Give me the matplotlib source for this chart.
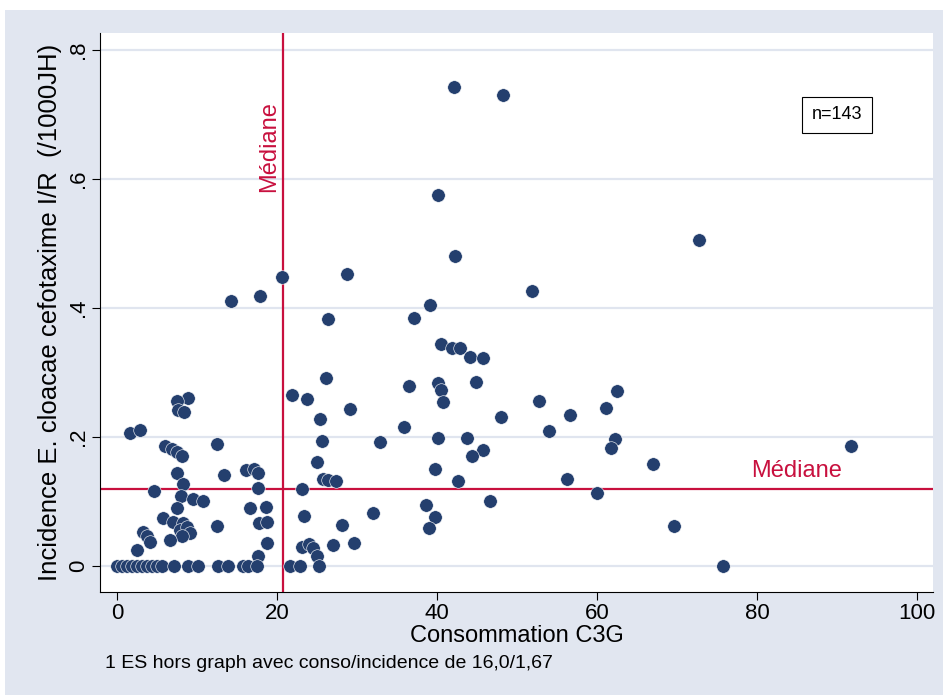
import matplotlib
matplotlib.use('Agg')
import matplotlib.pyplot as plt
from matplotlib.patches import Rectangle

# consommation C3G / incidence E. cloacae cefotaxime I/R
conso = [42.1, 48.2, 40.1, 72.8, 42.3, 28.7, 20.6, 51.9, 14.3, 17.9,
         39.1, 26.4, 37.1, 40.5, 41.9, 42.9, 44.1, 45.7, 26.1, 36.5,
         40.1, 40.5, 40.7, 44.9, 62.5, 61.1, 52.7, 56.6, 48.0, 21.9,
         23.8, 25.4, 29.1, 8.9, 7.5, 7.6, 8.4, 1.6, 2.9, 35.9,
         32.9, 25.6, 40.1, 43.7, 54.0, 62.2, 61.8, 45.7, 44.4, 12.5,
         6.0, 6.9, 7.5, 8.1, 67.0, 91.8, 7.5, 13.4, 16.1, 17.1,
         17.6, 17.6, 25.0, 39.7, 25.8, 26.4, 27.4, 42.6, 56.2, 60.0,
         4.6, 8.3, 8.0, 9.5, 10.7, 23.1, 16.6, 18.6, 17.7, 18.7,
         12.5, 23.4, 18.7, 17.6, 7.5, 5.8, 7.0, 8.3, 7.9, 8.7,
         9.1, 8.1, 3.3, 3.8, 4.1, 6.6, 2.5, 38.6, 39.7, 39.0,
         32.0, 28.1, 29.6, 27.0, 23.1, 24.0, 24.5, 25.0, 46.6, 69.6,
         0.0, 0.6, 1.25, 1.9, 2.5, 3.1, 3.75, 4.4, 5.0, 5.6,
         7.1, 8.9, 10.1, 12.6, 13.9, 15.75, 16.4, 17.5, 21.6, 22.9,
         25.2, 75.7]
incidence = [.743, .730, .575, .505, .481, .453, .448, .426, .411, .419,
             .404, .383, .385, .344, .338, .338, .324, .323, .291, .279,
             .284, .273, .254, .285, .271, .245, .256, .234, .231, .265,
             .259, .228, .243, .260, .256, .242, .238, .206, .211, .216,
             .192, .193, .198, .198, .209, .197, .183, .180, .171, .189,
             .186, .182, .177, .170, .158, .186, .144, .141, .148, .150,
             .144, .121, .161, .150, .135, .134, .131, .132, .135, .113,
             .116, .127, .109, .104, .101, .120, .090, .091, .067, .068,
             .062, .078, .036, .016, .090, .074, .068, .067, .056, .060,
             .051, .046, .053, .046, .037, .040, .025, .095, .076, .059,
             .082, .064, .036, .033, .029, .034, .028, .016, .100, .062,
             0, 0, 0, 0, 0, 0, 0, 0, 0, 0,
             0, 0, 0, 0, 0, 0, 0, 0, 0, 0,
             0, 0]

med_conso = 20.75
med_incid = 0.119
xticks = [0, 20, 40, 60, 80, 100]
yticks = [0, 0.2, 0.4, 0.6, 0.8]
ylabels = ['0', '.2', '.4', '.6', '.8']

W, H = 943, 695
plt.rcParams['font.family'] = ['Liberation Sans', 'DejaVu Sans']
fig = plt.figure(figsize=(W / 100, H / 100), dpi=100, facecolor='white')
bg = Rectangle((5 / W, 0), 1, 1 - 10 / H, transform=fig.transFigure,
               facecolor='#e1e6f0', edgecolor='none', zorder=-10)
fig.add_artist(bg)

ax = fig.add_axes([100 / W, 1 - 592 / H, 833 / W, 559 / H])
ax.set_zorder(1)
ax.set_facecolor('white')
ax.set_xlim(-2.125, 102)
ax.set_ylim(-0.0403, 0.826)

for yv in yticks:
    ax.axhline(yv, color='#e0e5ef', lw=1.6, zorder=1)

red = '#c8103e'
ax.axvline(med_conso, color=red, lw=1.6, zorder=2)
ax.axhline(med_incid, color=red, lw=1.6, zorder=2)

ax.scatter(conso, incidence, s=95, color='#243f6e', edgecolors='white',
           linewidths=0.4, zorder=3)

ax.text(med_conso - 0.4, 0.58, 'Médiane', rotation=90, color=red, fontsize=17,
        ha='right', va='bottom')
ax.text(85, med_incid + 0.011, 'Médiane', color=red, fontsize=17,
        ha='center', va='bottom')
ax.text(90, 0.699, 'n=143', fontsize=13, ha='center', va='center',
        bbox=dict(boxstyle='square,pad=0.55', facecolor='white', edgecolor='black', lw=0.8))

ax.set_xticks(xticks)
ax.set_yticks(yticks)
ax.set_yticklabels(ylabels, rotation=90, va='center')
ax.tick_params(axis='both', direction='out', length=6, width=0.8, labelsize=16, pad=2)
ax.set_xlabel('Consommation C3G', fontsize=17, labelpad=1)
ax.set_ylabel('Incidence E. cloacae cefotaxime I/R  (/1000JH)', fontsize=18.5, labelpad=4)

for s in ['top', 'right']:
    ax.spines[s].set_visible(False)
for s in ['left', 'bottom']:
    ax.spines[s].set_linewidth(0.8)

fig.text(105 / W, 1 - 663 / H, '1 ES hors graph avec conso/incidence de 16,0/1,67',
         fontsize=14, va='center', ha='left')

plt.savefig('out.png', dpi=100)
plt.close()
